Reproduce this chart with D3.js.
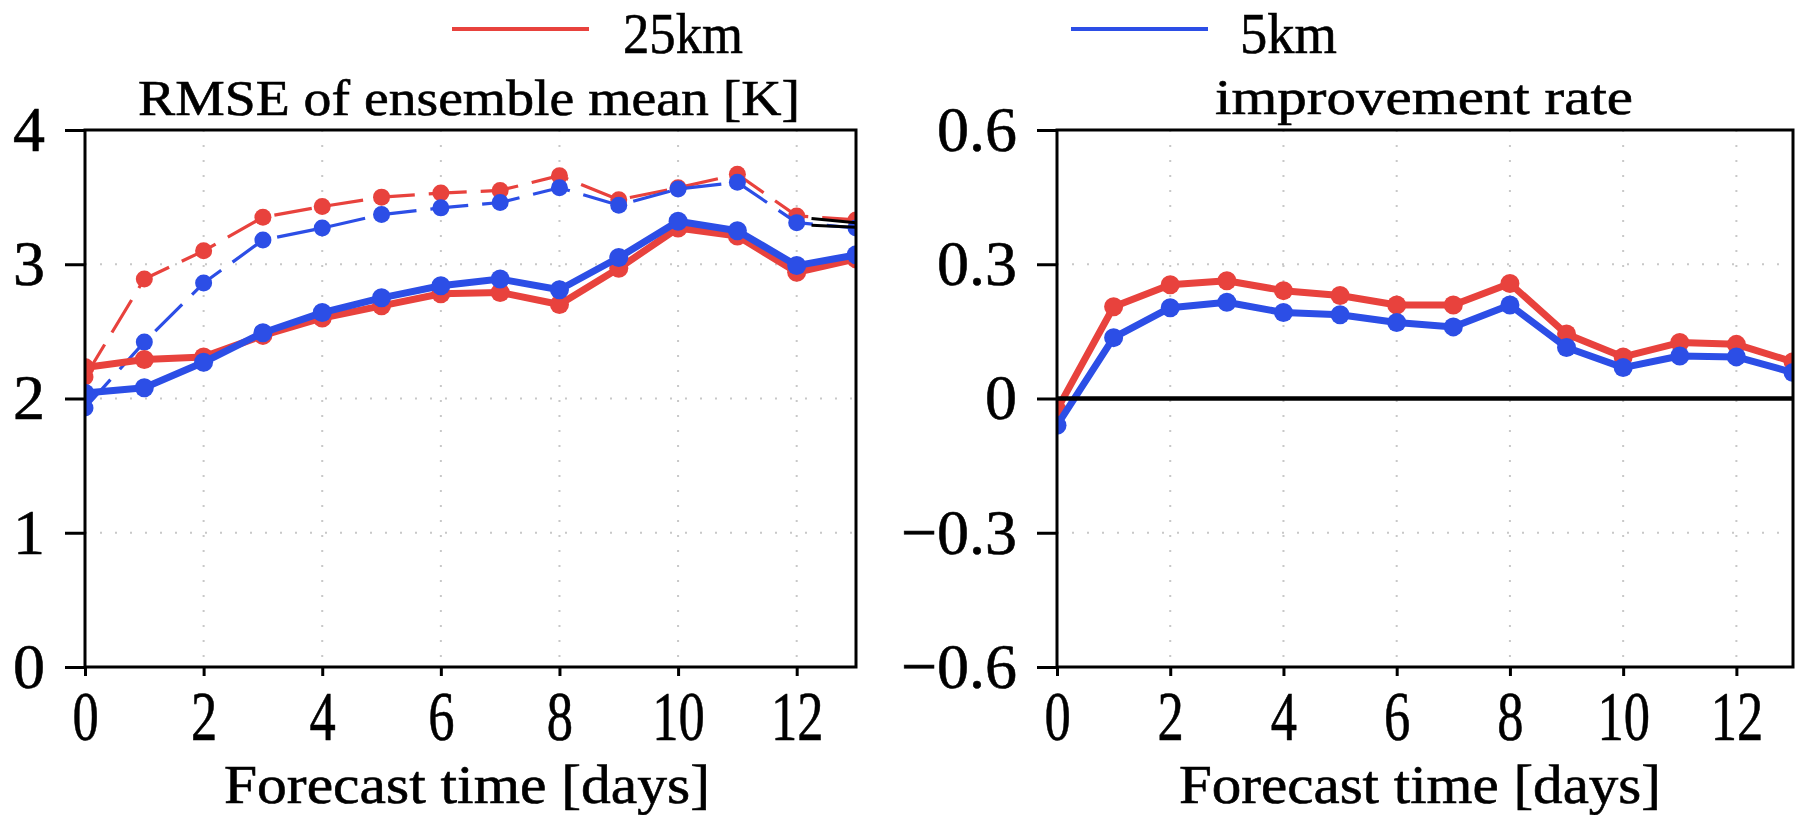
<!DOCTYPE html>
<html><head><meta charset="utf-8">
<script src="https://cdn.jsdelivr.net/npm/d3@7"></script>
<style>
body{margin:0;background:#fff}
svg{display:block}
text{font-family:"Liberation Serif","Times New Roman",serif;fill:#000;stroke:#000;stroke-width:0.6px}
</style>
</head><body>
<svg id="c" width="1804" height="815"></svg>
<script>
// ---------------- data ----------------
const days = [0,1,2,3,4,5,6,7,8,9,10,11,12,13];
// RMSE of ensemble mean (solid)
const rmse25 = [2.23,2.29,2.31,2.47,2.60,2.69,2.78,2.79,2.70,2.97,3.27,3.21,2.94,3.04];
const rmse5  = [2.04,2.08,2.27,2.49,2.64,2.75,2.84,2.89,2.81,3.05,3.32,3.25,2.99,3.07];
// dashed curves
const dash25 = [2.16,2.89,3.10,3.35,3.43,3.50,3.53,3.55,3.66,3.48,3.57,3.67,3.36,3.33];
const dash5  = [1.93,2.42,2.86,3.18,3.27,3.37,3.42,3.46,3.57,3.44,3.56,3.61,3.31,3.27];
// short black segments near the right edge
const blackDays = [12.25,13];
const blackA = [3.34,3.31];
const blackB = [3.29,3.275];
// improvement rate
const improve25 = [-0.025,0.205,0.254,0.263,0.241,0.230,0.209,0.209,0.257,0.144,0.093,0.125,0.121,0.082];
const improve5  = [-0.060,0.136,0.203,0.215,0.192,0.187,0.170,0.160,0.209,0.114,0.069,0.095,0.093,0.058];
// ticks / labels
const xTicks = [0,2,4,6,8,10,12];
const leftYTicks = [0,1,2,3,4];
const rightYTicks = [-0.6,-0.3,0,0.3,0.6];
const seriesNames = ["25km","5km"];
const leftTitle = "RMSE of ensemble mean [K]";
const rightTitle = "improvement rate";
const xTitle = "Forecast time [days]";

// ---------------- styles ----------------
const RED = "#e8423d", BLUE = "#2c4ee6";
const svg = d3.select("#c");
const yTop = 130, yBot = 667;

function panel(id, x0, x1, ydom, yTicks, yFmt){
  const x = d3.scaleLinear().domain([0,13]).range([x0,x1]);
  const y = d3.scaleLinear().domain(ydom).range([yBot,yTop]);
  const g = svg.append("g");
  g.append("clipPath").attr("id","clip"+id).append("rect")
    .attr("x",x0).attr("y",yTop).attr("width",x1-x0).attr("height",yBot-yTop);
  // grid
  g.selectAll(".vg").data(xTicks.filter(d=>d>0)).join("line")
    .attr("x1",d=>x(d)).attr("x2",d=>x(d)).attr("y1",yTop).attr("y2",yBot)
    .attr("stroke","#c8c8c8").attr("stroke-width",2).attr("stroke-dasharray","2,13");
  g.selectAll(".hg").data(yTicks.filter(d=>d!==ydom[0]&&d!==ydom[1]&&d!==0)).join("line")
    .attr("x1",x0).attr("x2",x1).attr("y1",d=>y(d)).attr("y2",d=>y(d))
    .attr("stroke","#c8c8c8").attr("stroke-width",2).attr("stroke-dasharray","2,13");
  const plot = g.append("g").attr("clip-path","url(#clip"+id+")");
  // axes
  const ya = g.append("g").attr("transform",`translate(${x0},0)`)
    .call(d3.axisLeft(y).tickValues(yTicks).tickSize(20).tickPadding(20).tickFormat(yFmt));
  ya.select(".domain").remove();
  ya.selectAll("line").attr("stroke","#000").attr("stroke-width",3);
  ya.selectAll("text").attr("font-size",64).attr("font-family","Liberation Serif");
  const xa = g.append("g").attr("transform",`translate(0,${yBot})`)
    .call(d3.axisBottom(x).tickValues(xTicks).tickSize(9).tickPadding(14).tickFormat(d3.format("d")));
  xa.select(".domain").remove();
  xa.selectAll("line").attr("stroke","#000").attr("stroke-width",3);
  xa.selectAll("text").attr("font-size",70).attr("font-family","Liberation Serif")
    .each(function(){ const L=this.getComputedTextLength(); this.setAttribute("textLength",L*0.75); this.setAttribute("lengthAdjust","spacingAndGlyphs"); });
  return {x,y,g,plot,x0,x1};
}

function series(p, xs, vals, color, width, dash, r){
  const pts = xs.map((d,i)=>[d,vals[i]]);
  const line = d3.line().x(d=>p.x(d[0])).y(d=>p.y(d[1]));
  p.plot.append("path").datum(pts).attr("d",line).attr("fill","none")
    .attr("stroke",color).attr("stroke-width",width).attr("stroke-linejoin","round")
    .attr("stroke-dasharray",dash||null);
  if(r){
    p.plot.selectAll(null).data(pts).join("circle")
      .attr("cx",d=>p.x(d[0])).attr("cy",d=>p.y(d[1])).attr("r",r).attr("fill",color);
  }
}

// left panel
const LP = panel("L",85,856,[0,4],leftYTicks,d3.format("d"));
series(LP, days, dash25, RED, 3.2, "38,14", 8.5);
series(LP, days, dash5, BLUE, 3.2, "38,14", 8.5);
series(LP, blackDays, blackA, "#000", 3, null, 0);
series(LP, blackDays, blackB, "#000", 3, null, 0);
series(LP, days, rmse25, RED, 7, null, 9.5);
series(LP, days, rmse5, BLUE, 7, null, 9.5);
LP.g.append("rect").attr("x",85).attr("y",yTop).attr("width",856-85).attr("height",yBot-yTop)
  .attr("fill","none").attr("stroke","#000").attr("stroke-width",3);

// right panel
const RP = panel("R",1057,1793,[-0.6,0.6],rightYTicks,d=>d===0?"0":d3.format(".1f")(d));
RP.g.append("line").attr("x1",1057).attr("x2",1793).attr("y1",RP.y(0)).attr("y2",RP.y(0))
  .attr("stroke","#000").attr("stroke-width",4.5);
series(RP, days, improve25, RED, 7, null, 9.5);
series(RP, days, improve5, BLUE, 7, null, 9.5);
RP.g.append("rect").attr("x",1057).attr("y",yTop).attr("width",1793-1057).attr("height",yBot-yTop)
  .attr("fill","none").attr("stroke","#000").attr("stroke-width",3);

// titles
function txt(s,x,y,size,len,anchor){
  return svg.append("text").text(s).attr("x",x).attr("y",y).attr("font-size",size)
    .attr("text-anchor",anchor||"middle").attr("textLength",len).attr("lengthAdjust","spacingAndGlyphs");
}
txt(leftTitle,469,115,50,662);
txt(rightTitle,1424,114,50,418);
txt(xTitle,467,803,54,486);
txt(xTitle,1420,803,54,482);

// legend
const legend = [{name:seriesNames[0],color:RED,lx:452,tx:623,len:120},
                {name:seriesNames[1],color:BLUE,lx:1071,tx:1240,len:97}];
legend.forEach(l=>{
  svg.append("line").attr("x1",l.lx).attr("x2",l.lx+137).attr("y1",29).attr("y2",29)
    .attr("stroke",l.color).attr("stroke-width",4);
  txt(l.name,l.tx,53,58,l.len,"start");
});
</script>
</body></html>
